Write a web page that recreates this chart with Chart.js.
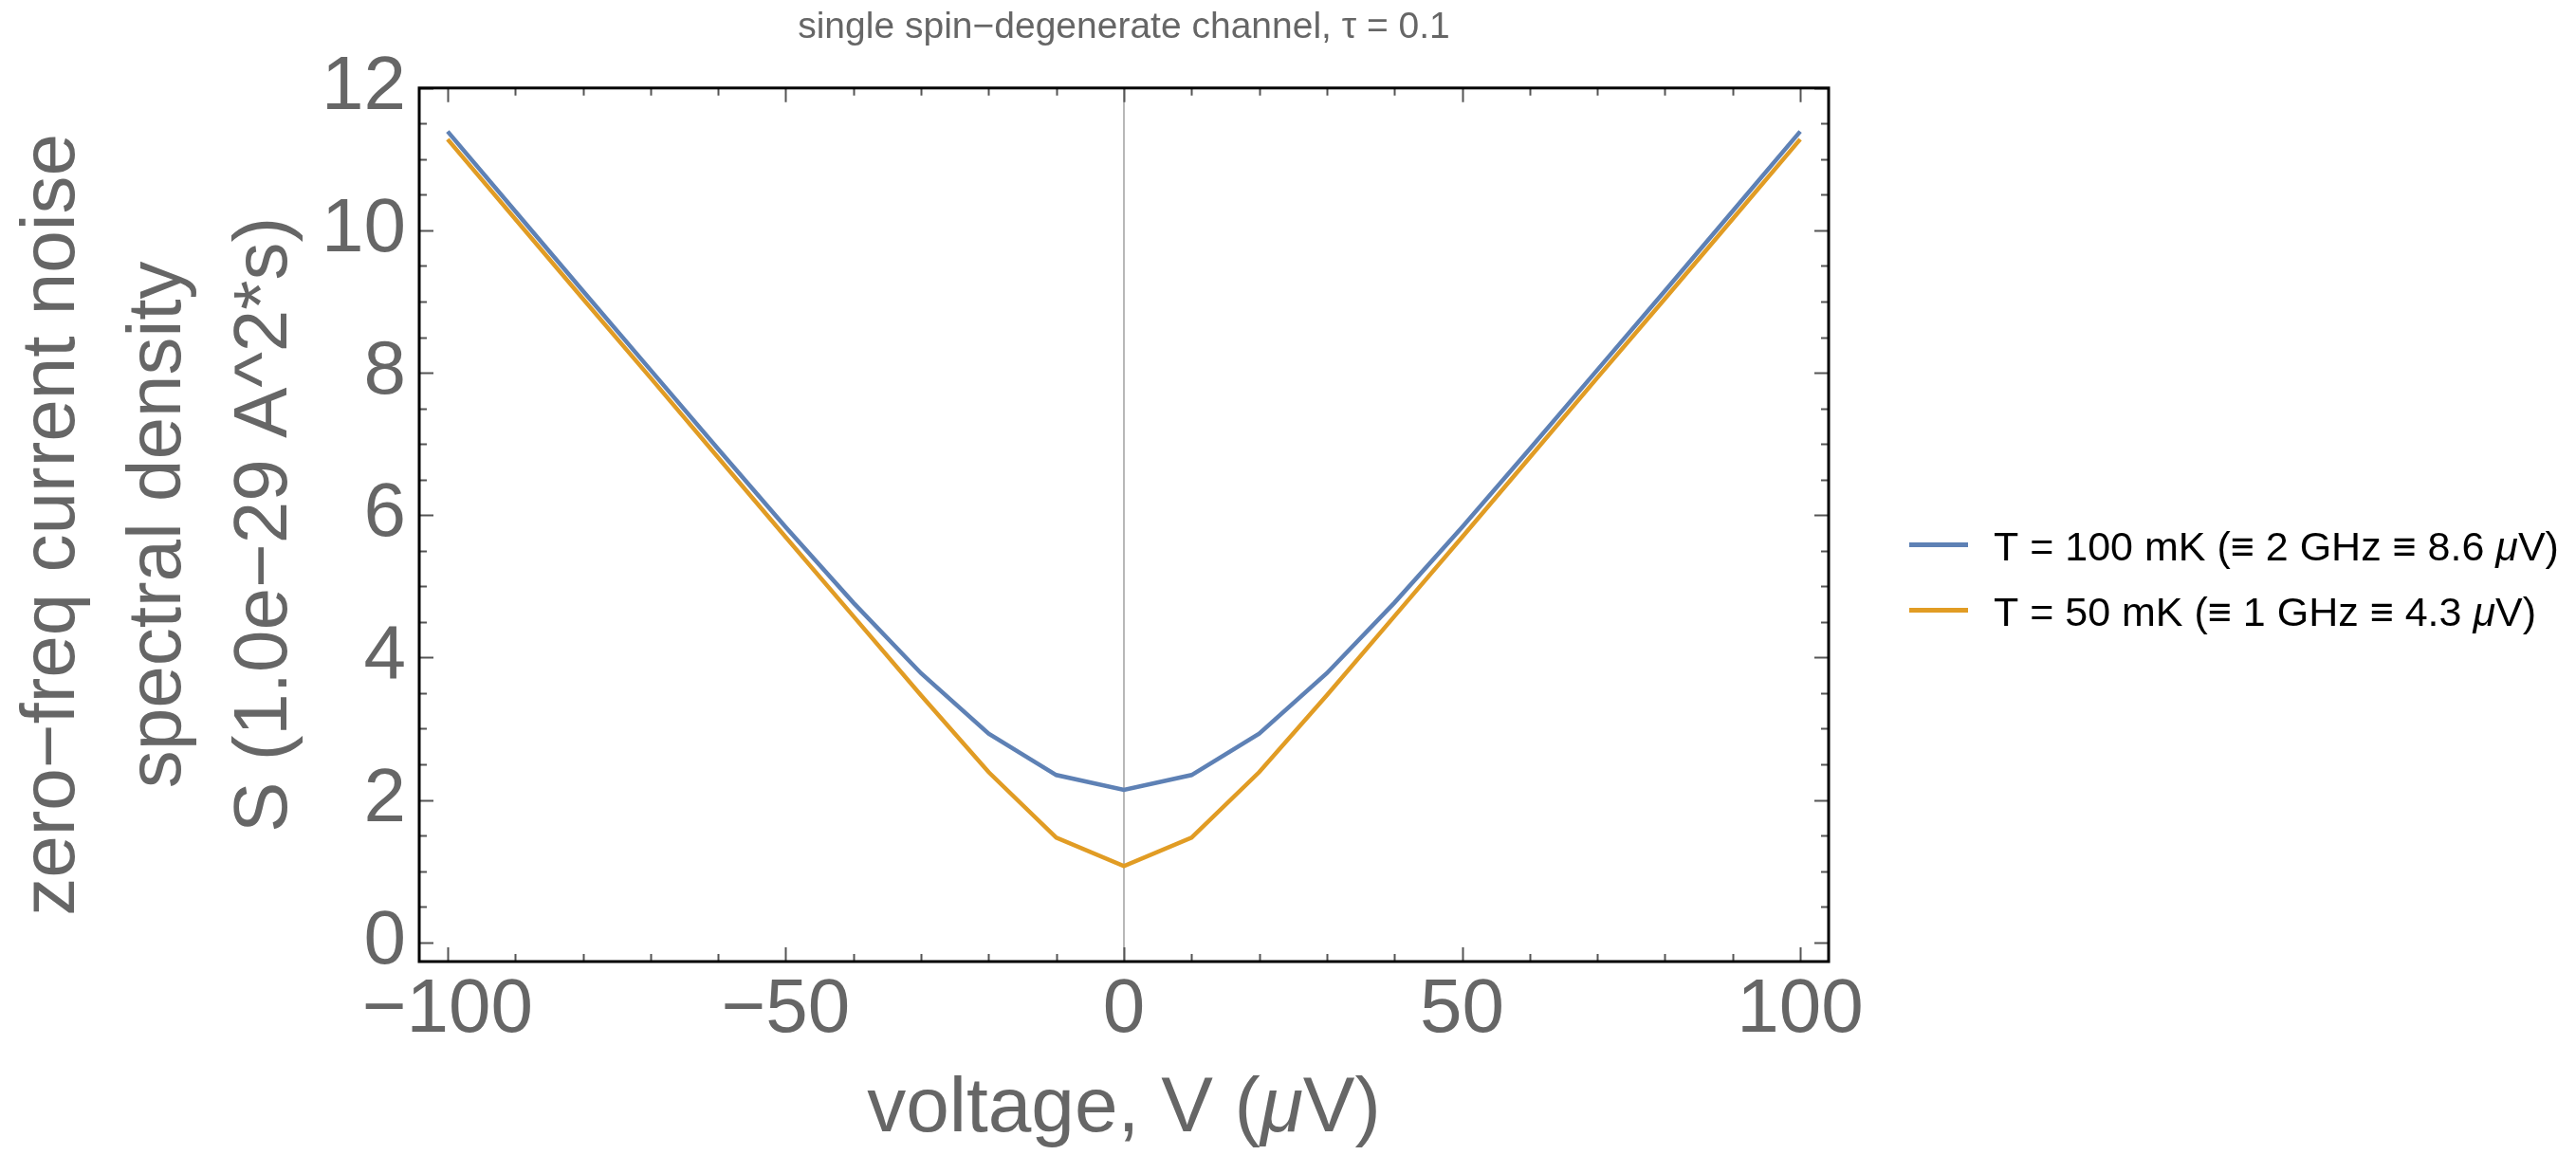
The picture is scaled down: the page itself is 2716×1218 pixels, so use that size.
<!DOCTYPE html>
<html>
<head>
<meta charset="utf-8">
<style>
  html, body { margin: 0; padding: 0; background: #fff; }
  #wrap { position: relative; width: 2716px; height: 1218px; }
</style>
</head>
<body>
<div id="wrap">
  <canvas id="myChart"></canvas>
</div>

<script src="https://cdn.jsdelivr.net/npm/chart.js"></script>

<script>
// bias voltage in microvolts
const voltage = [-100,-90,-80,-70,-60,-50,-40,-30,-20,-10,0,10,20,30,40,50,60,70,80,90,100];
// noise S in units of 1.0e-29 A^2*s
const noise100mK = [11.39,10.27,9.15,8.04,6.93,5.83,4.77,3.78,2.93,2.35,2.14,2.35,2.93,3.78,4.77,5.83,6.93,8.04,9.15,10.27,11.39];
const noise50mK  = [11.28,10.16,9.04,7.93,6.81,5.69,4.58,3.47,2.39,1.47,1.07,1.47,2.39,3.47,4.58,5.69,6.81,7.93,9.04,10.16,11.28];
const seriesLabels = ['T = 100 mK (\u2261 2 GHz \u2261 8.6 \u03BCV)', 'T = 50 mK (\u2261 1 GHz \u2261 4.3 \u03BCV)'];
const xTitle = 'voltage, V (\u03BCV)';
const xTicks = [-100, -50, 0, 50, 100];
const yTicks = [0, 2, 4, 6, 8, 10, 12];

const FONT = "'Liberation Sans', Arial, Helvetica, sans-serif";
const GREY = '#666666';

function pts(ys) { return voltage.map((v, i) => ({x: v, y: ys[i]})); }

// draws a string with every mu in italic
function drawMixed(ctx, str, x, y, size, align) {
  const parts = str.split(/(\u03BC)/);
  const fontOf = p => (p === '\u03BC' ? 'italic ' : '') + size + 'px ' + FONT;
  let w = 0;
  parts.forEach(p => { ctx.font = fontOf(p); w += ctx.measureText(p).width; });
  let tx = align === 'center' ? x - w / 2 : x;
  ctx.textAlign = 'left';
  parts.forEach(p => {
    ctx.font = fontOf(p);
    ctx.fillText(p, tx, y);
    tx += ctx.measureText(p).width;
  });
}

// frame with inward ticks, like the original plot
const framePlugin = {
  id: 'frame',
  afterDatasetsDraw(chart) {
    const {ctx, chartArea: a, scales: {x, y}} = chart;
    ctx.save();
    ctx.strokeStyle = '#555';
    ctx.lineWidth = 2;
    ctx.beginPath();
    for (let v = -100; v <= 100; v += 10) {
      const px = Math.round(x.getPixelForValue(v)) + 0.5;
      const len = (v % 50 === 0) ? 15 : 8;
      ctx.moveTo(px, a.bottom); ctx.lineTo(px, a.bottom - len);
      ctx.moveTo(px, a.top); ctx.lineTo(px, a.top + len);
    }
    for (let k = 0; k <= 24; k++) {
      const v = k / 2;
      const py = Math.round(y.getPixelForValue(v)) + 0.5;
      const len = (k % 4 === 0) ? 15 : 8;
      ctx.moveTo(a.left, py); ctx.lineTo(a.left + len, py);
      ctx.moveTo(a.right, py); ctx.lineTo(a.right - len, py);
    }
    ctx.stroke();
    ctx.strokeStyle = '#000';
    ctx.lineWidth = 3;
    ctx.strokeRect(a.left, a.top, a.right - a.left, a.bottom - a.top);
    ctx.restore();
  }
};

// x title and legend (mu in italic)
const textPlugin = {
  id: 'texts',
  afterDraw(chart) {
    const {ctx, chartArea: a} = chart;
    ctx.save();
    ctx.textBaseline = 'alphabetic';
    ctx.fillStyle = GREY;
    drawMixed(ctx, xTitle, (a.left + a.right) / 2, 1193, 82, 'center');

    const x0 = a.right + 85;
    const rowGap = 69;
    const yc = chart.height / 2;
    ctx.fillStyle = '#000';
    chart.data.datasets.forEach((ds, i) => {
      const ry = yc + (i - 0.5) * rowGap;
      ctx.strokeStyle = ds.borderColor;
      ctx.lineWidth = 5;
      ctx.beginPath();
      ctx.moveTo(x0, ry); ctx.lineTo(x0 + 62, ry);
      ctx.stroke();
      drawMixed(ctx, ds.label, x0 + 89, ry + 16, 43, 'left');
    });
    ctx.restore();
  }
};

const ctx = document.getElementById('myChart');
new Chart(ctx, {
  type: 'line',
  data: {
    datasets: [
      { label: seriesLabels[0], data: pts(noise100mK), borderColor: '#5E81B5', borderWidth: 4.5,
        pointRadius: 0, tension: 0, fill: false, order: 1 },
      { label: seriesLabels[1], data: pts(noise50mK), borderColor: '#E19C24', borderWidth: 4.5,
        pointRadius: 0, tension: 0, fill: false, order: 0 }
    ]
  },
  options: {
    responsive: true,
    maintainAspectRatio: false,
    animation: false,
    devicePixelRatio: 1,
    layout: { padding: { left: 0, right: 788, top: 0, bottom: 0 } },
    plugins: {
      legend: { display: false },
      tooltip: { enabled: false },
      title: {
        display: true,
        text: 'single spin\u2212degenerate channel, \u03C4 = 0.1',
        fullSize: false,
        color: GREY,
        font: { family: FONT, size: 39, weight: 'normal', lineHeight: 1.2 },
        padding: { top: 6, bottom: 40 }
      }
    },
    scales: {
      x: {
        type: 'linear',
        min: -104.2,
        max: 104.2,
        afterBuildTicks: s => { s.ticks = xTicks.map(v => ({value: v})); },
        afterFit: s => { s.height = 204; },
        border: { display: false },
        grid: {
          drawTicks: false,
          lineWidth: 2,
          color: c => (c.tick && c.tick.value === 0) ? '#b8b8b8' : 'rgba(0,0,0,0)'
        },
        ticks: {
          color: GREY, padding: 4, maxRotation: 0,
          font: { family: FONT, size: 80, lineHeight: 1.2 },
          callback: v => String(v).replace('-', '\u2212')
        },
        title: { display: false }
      },
      y: {
        type: 'linear',
        min: -0.27,
        max: 12,
        afterBuildTicks: s => { s.ticks = yTicks.map(v => ({value: v})); },
        afterFit: s => { s.width = 442; },
        border: { display: false },
        grid: { display: false, drawTicks: false },
        ticks: {
          color: GREY, padding: 14,
          font: { family: FONT, size: 80, lineHeight: 1.2 }
        },
        title: {
          display: true,
          text: ['zero\u2212freq current noise', 'spectral density', 'S (1.0e\u221229 A^2*s)'],
          color: GREY,
          font: { family: FONT, size: 80, lineHeight: 1.4 },
          padding: { top: 0, bottom: 0 }
        }
      }
    }
  },
  plugins: [framePlugin, textPlugin]
});
</script>
</body>
</html>
